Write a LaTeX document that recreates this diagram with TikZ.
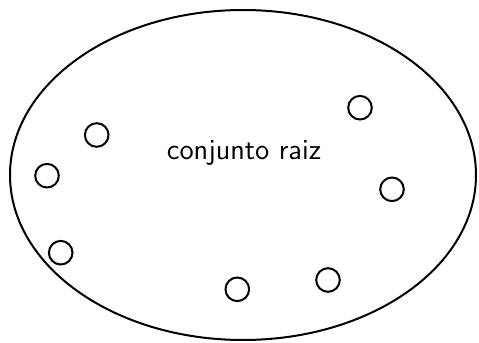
\documentclass[tikz,border=0pt]{standalone}
\usepackage{tikz}
\usetikzlibrary{shapes.geometric}

\begin{document}
\begin{tikzpicture}[x=0.5pt,y=-0.5pt]
    \tikzset{
    conjunto/.style={
        draw,
        ellipse,
        line width=1pt,
        minimum width=233pt,
        minimum height=165pt
    },
    elemento/.style={
        draw,
        circle,
        line width=1pt,
        inner sep=0pt,
        minimum size=11.8pt
    }
}
        \useasboundingbox (0,0) rectangle (479,343);

        \node[conjunto] (Raiz) at (243,175) {};

        \node[font=\sffamily\fontsize{14.5}{17}\selectfont] (Rotulo) at (244,153) {conjunto raiz};

        \node[elemento] (e1) at (96.7,135) {};
        \node[elemento] (e2) at (47,175.7) {};
        \node[elemento] (e3) at (60.7,252.7) {};
        \node[elemento] (e4) at (237.3,289.3) {};
        \node[elemento] (e5) at (328,280) {};
        \node[elemento] (e6) at (360,107.7) {};
        \node[elemento] (e7) at (392,189.3) {};
    \end{tikzpicture}
\end{document}
